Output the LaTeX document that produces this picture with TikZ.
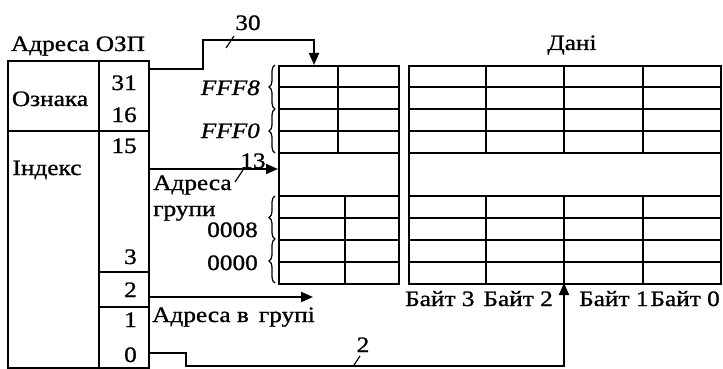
\documentclass[tikz,border=0pt]{standalone}
\usepackage{fontspec}
\setmainfont[FakeStretch=1.15,FakeBold=1]{Liberation Serif}
\usetikzlibrary{arrows.meta,positioning,calc,decorations.pathreplacing}

\begin{document}
\begin{tikzpicture}[x=1pt,y=-1pt,
    frame/.style={line width=2pt},
    grid/.style={line width=1.6pt},
    bus/.style={line width=2pt, -{Triangle[length=12pt,width=10pt]}},
    txt/.style={font=\fontsize{22}{24}\selectfont, inner sep=0pt, anchor=base},
    num/.style={txt, anchor=base east},
    hexnum/.style={num, font=\fontsize{22}{24}\selectfont\itshape},
    brace/.style={line width=1.2pt, decorate, decoration={brace, amplitude=6pt}},
    tick/.style={line width=1.2pt}
]
\useasboundingbox (0,0) rectangle (723,369);

% Register
\node[frame, draw, minimum width=91pt, minimum height=70pt, anchor=north west] (tagL) at (7,60) {};
\node[frame, draw, minimum width=50pt, minimum height=70pt, anchor=north west] (tagR) at (98,60) {};
\node[frame, draw, minimum width=91pt, minimum height=237pt, anchor=north west] (idxL) at (7,130) {};
\node[frame, draw, minimum width=50pt, minimum height=141pt, anchor=north west] (idxR) at (98,130) {};
\node[frame, draw, minimum width=50pt, minimum height=35pt, anchor=north west] (bitTwo) at (98,271) {};
\node[frame, draw, minimum width=50pt, minimum height=61pt, anchor=north west] (offR) at (98,306) {};

\node[txt] (regTitle) at (78,51) {Адреса ОЗП};
\node[txt] (tagTxt) at (50,106) {Ознака};
\node[txt] (idxTxt) at (47,175) {Індекс};
\node[num] (b31) at (137,90) {31};
\node[num] (b16) at (137,122) {16};
\node[num] (b15) at (137,153) {15};
\node[num] (b3) at (137,264) {3};
\node[num] (b2) at (137,297) {2};
\node[num] (b1) at (137,327) {1};
\node[num] (b0) at (137,362) {0};

% Tag array
\node[frame, draw, minimum width=120pt, minimum height=218pt, anchor=north west] (tags) at (278,65) {};
\foreach \y in {87,109,131,153,196,218,240,262}
  \draw[grid] (278,\y) -- (398,\y);
\draw[grid] (338,65) -- (338,153);
\draw[grid] (345,196) -- (345,283);

% Data array
\node[frame, draw, minimum width=312pt, minimum height=218pt, anchor=north west] (data) at (408,65) {};
\foreach \y in {87,109,131,153,196,218,240,262}
  \draw[grid] (408,\y) -- (720,\y);
\foreach \x in {486,564,643} {
  \draw[grid] (\x,65) -- (\x,153);
  \draw[grid] (\x,196) -- (\x,283);
}
\node[txt] (dataTitle) at (572,50) {Дані};

% Set numbers
\draw[brace] (275,109) -- (275,65);
\draw[brace] (275,153) -- (275,109);
\draw[brace] (275,239) -- (275,196);
\draw[brace] (275,283) -- (275,239);
\node[hexnum] (fff8) at (260,95) {FFF8};
\node[hexnum] (fff0) at (260,138) {FFF0};
\node[num] (s8) at (258,237) {0008};
\node[num] (s0) at (258,270) {0000};

\node[txt, anchor=base west] (grpA) at (153,190) {Адреса};
\node[txt, anchor=base west] (grpB) at (153,216) {групи};
\node[txt, anchor=base west] (offTxt) at (152,322) {Адреса в\, групі};

\node[txt, anchor=base west] (byte3) at (405,306) {Байт 3};
\node[txt, anchor=base east] (byte2) at (553,306) {Байт 2};
\node[txt, anchor=base west] (byte1) at (579,306) {Байт 1};
\node[txt, anchor=base east] (byte0) at (720,306) {Байт 0};

% Buses
\coordinate (tagOut) at (148,69.5);
\coordinate (tagIn) at (314,65);
\draw[bus] (tagOut) -- (203,69.5) -- (203,40) -- (314,40) -- (tagIn);
\draw[tick] (226,48) -- (234,36);
\node[txt] (w30) at (248,30) {30};

\coordinate (idxOut) at (148,169);
\draw[bus] (idxOut) -- (idxOut -| tags.west);
\draw[tick] (235,182) -- (243,170);
\node[txt] (w13) at (253,168) {13};

\coordinate (offOut) at (148,297);
\coordinate (offEnd) at (313,297);
\draw[bus] (offOut) -- (offEnd);

\coordinate (byteOut) at (148,353);
\coordinate (byteIn) at (564,283);
\draw[bus] (byteOut) -- (186,353) -- (186,366) -- (564,366) -- (byteIn);
\draw[tick] (354,365) -- (360,356);
\node[txt] (w2) at (363,352) {2};

\end{tikzpicture}
\end{document}
